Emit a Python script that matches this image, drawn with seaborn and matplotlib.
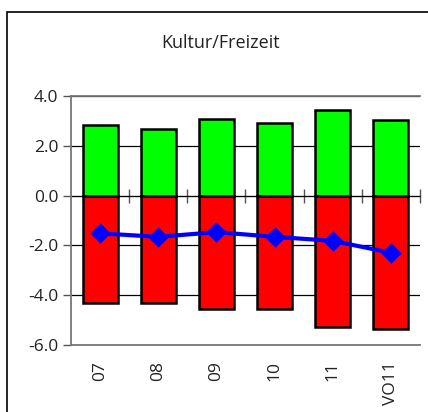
import pandas as pd
import matplotlib
matplotlib.use("Agg")
import matplotlib.pyplot as plt
import seaborn as sns
from matplotlib.patches import Rectangle
from matplotlib.ticker import FormatStrFormatter

sns.set_style("white")
plt.rcParams['font.family'] = ['Open Sans', 'DejaVu Sans']

# values
categories = ["07", "08", "09", "10", "11", "VO11"]
positive = [2.82, 2.68, 3.09, 2.92, 3.45, 3.05]
negative = [-4.31, -4.31, -4.56, -4.55, -5.27, -5.35]
balance = [-1.52, -1.66, -1.47, -1.66, -1.82, -2.30]

df = pd.DataFrame({"cat": categories, "pos": positive, "neg": negative, "net": balance})

fig = plt.figure(figsize=(4.28, 4.12), dpi=100)
ax = fig.add_axes([0.166, 0.163, 0.815, 0.604])

# outer frame of the chart box
fig.patches.append(Rectangle((7 / 428, -0.2), 1.5, 0.971 + 0.2, transform=fig.transFigure,
                             fill=False, edgecolor="black", linewidth=1.2))

ax.set_axisbelow(True)
ax.grid(axis="y", color="black", linewidth=0.9)

sns.barplot(data=df, x="cat", y="pos", color="#00ff00", saturation=1, width=0.6,
            edgecolor="black", linewidth=1.8, ax=ax)
sns.barplot(data=df, x="cat", y="neg", color="#ff0000", saturation=1, width=0.6,
            edgecolor="black", linewidth=1.8, ax=ax)
sns.pointplot(data=df, x="cat", y="net", color="#0000ff", marker="D", markersize=8,
              linewidth=3, errorbar=None, ax=ax)

ax.set_xlim(-0.5, 5.5)
ax.set_ylim(-6, 4)
ax.set_yticks([-6, -4, -2, 0, 2, 4])
ax.yaxis.set_major_formatter(FormatStrFormatter("%.1f"))
ax.set_xlabel("")
ax.set_ylabel("")
ax.tick_params(axis="y", left=True, length=6, width=1, color="#555555", labelsize=12.5,
               pad=3, labelcolor="#222222")
ax.tick_params(axis="x", bottom=False, labelsize=12.5, labelrotation=90, pad=8,
               labelcolor="#222222")
for lab in ax.get_xticklabels():
    lab.set_verticalalignment("top")

for side in ["top", "bottom", "left"]:
    ax.spines[side].set_color("#777777")
    ax.spines[side].set_linewidth(1.3)
ax.spines["right"].set_visible(False)

# category axis crossing at zero
zero = ax.secondary_xaxis(0.6)
zero.set_xticks([0.5, 1.5, 2.5, 3.5, 4.5, 5.5])
zero.set_xticklabels([])
zero.tick_params(direction="inout", length=10, width=1, color="#555555")
zero.spines["bottom"].set_color("#777777")
zero.spines["bottom"].set_linewidth(1.3)

fig.text(0.515, 0.895, "Kultur/Freizeit", ha="center", va="center", fontsize=13,
         color="#222222")

fig.savefig("out.png", dpi=100)
